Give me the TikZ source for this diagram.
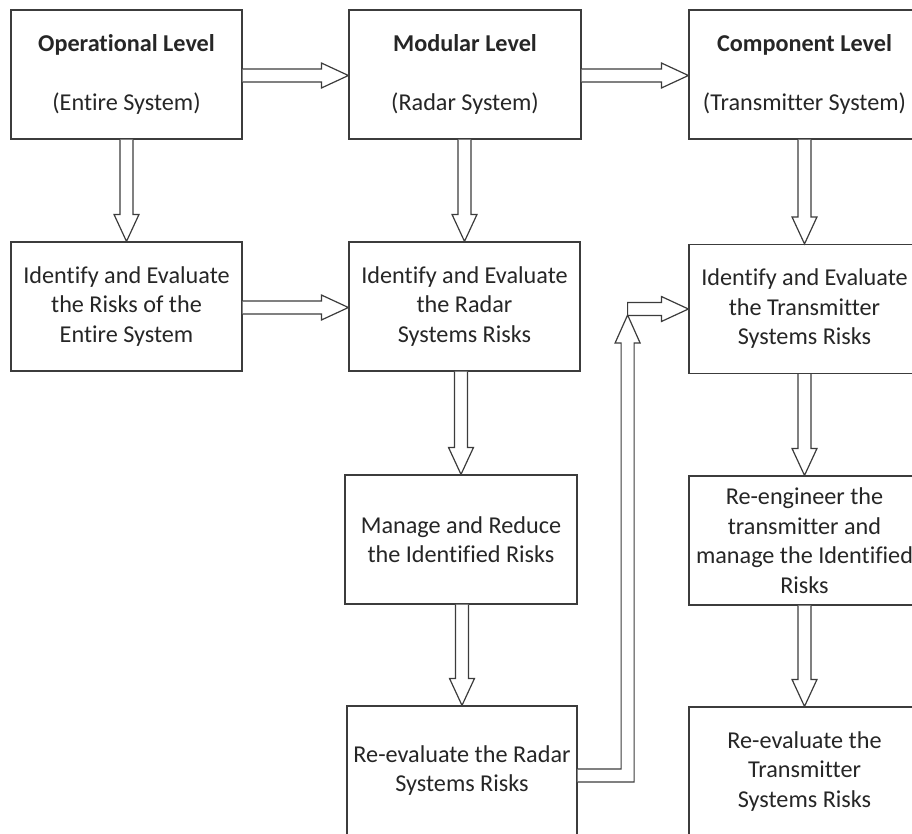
\documentclass[tikz,border=0pt]{standalone}
\usepackage{fontspec}
\setmainfont{Carlito}[Ligatures=NoCommon]
\usetikzlibrary{calc}

\definecolor{edge}{RGB}{60,60,60}

\tikzset{
  box/.style={draw=edge, line width=1.2pt, fill=white, rectangle,
    minimum width=231pt, minimum height=129pt, inner sep=0pt,
    align=center, text=black!85,
    font=\fontsize{24.2}{29.5}\selectfont},
  blk/.style={draw=edge, line width=1.2pt, fill=white, line join=miter}
}

% block arrow pointing down from #1 into #2
\newcommand{\blockdown}[2]{%
  \coordinate (s) at (#1.south -| #2.north);
  \coordinate (t) at (#2.north);
  \draw[blk] ($(s)+(-6.5,0)$) -- ($(t)+(-6.5,-27)$) -- ($(t)+(-12.5,-27)$)
    -- (t) -- ($(t)+(12.5,-27)$) -- ($(t)+(6.5,-27)$) -- ($(s)+(6.5,0)$);
}
% block arrow pointing right from #1 into #2
\newcommand{\blockright}[2]{%
  \coordinate (s) at ($(#1.east)+(0,1)$);
  \coordinate (t) at (#2.west |- s);
  \draw[blk] ($(s)+(0,-6.5)$) -- ($(t)+(-27,-6.5)$) -- ($(t)+(-27,-12.5)$)
    -- (t) -- ($(t)+(-27,12.5)$) -- ($(t)+(-27,6.5)$) -- ($(s)+(0,6.5)$);
}

\begin{document}
\begin{tikzpicture}[x=1pt, y=-1pt]
  \useasboundingbox (0,0) rectangle (912,833);
  \clip (0,0) rectangle (912,833);

  % level headers
  \node[box] (op)  at (126.5,74.5) {\textbf{Operational Level}\\[29.5pt](Entire System)};
  \node[box, minimum width=232pt] (mod) at (465,74.5) {\textbf{Modular Level}\\[29.5pt](Radar System)};
  \node[box] (comp) at (804.5,74.5) {\textbf{Component Level}\\[29.5pt](Transmitter System)};

  % risk identification
  \node[box] (opid)  at (126.5,306.5) {Identify and Evaluate\\the Risks of the\\Entire System};
  \node[box] (modid) at (464.5,306.5) {Identify and Evaluate\\the Radar\\Systems Risks};
  \node[box] (compid) at (804.5,309) {Identify and Evaluate\\the Transmitter\\Systems Risks};

  % risk handling
  \node[box, minimum width=232pt] (modman) at (461,539.5) {Manage and Reduce\\the Identified Risks};
  \node[box] (compman) at (804.5,540.5) {Re-engineer the\\transmitter and\\manage the Identified\\Risks};

  % re-evaluation
  \node[box, minimum width=230pt] (modre) at (462,770.5) {Re-evaluate the Radar\\Systems Risks};
  \node[box] (compre) at (804.5,771.5) {Re-evaluate the\\Transmitter\\Systems Risks};

  % flow between levels
  \blockright{op}{mod}
  \blockright{mod}{comp}
  \blockright{opid}{modid}

  % flow down each level
  \blockdown{op}{opid}
  \blockdown{mod}{modid}
  \blockdown{comp}{compid}
  \blockdown{modid}{modman}
  \blockdown{modman}{modre}
  \blockdown{compid}{compman}
  \blockdown{compman}{compre}

  % feedback from radar re-evaluation to transmitter identification
  \coordinate (fs) at ($(modre.east)+(0,5)$);
  \coordinate (ft) at (compid.west);
  \coordinate (bend) at ($(fs)+(50,0)$);
  \coordinate (corner) at (bend |- ft);
  \draw[blk] ($(fs)+(0,-6.5)$) -- ($(bend)+(-6.5,-6.5)$)
    -- ($(corner)+(-6.5,34)$) -- ($(corner)+(-12.5,34)$) -- ($(corner)+(0,6)$)
    -- ($(corner)+(12.5,34)$) -- ($(corner)+(6.5,34)$)
    -- ($(bend)+(6.5,6.5)$) -- ($(fs)+(0,6.5)$);
  \draw[blk] ($(corner)+(0,-6.5)$) -- ($(ft)+(-27,-6.5)$) -- ($(ft)+(-27,-12.5)$)
    -- (ft) -- ($(ft)+(-27,12.5)$) -- ($(ft)+(-27,6.5)$) -- ($(corner)+(0,6.5)$) -- cycle;
\end{tikzpicture}
\end{document}
